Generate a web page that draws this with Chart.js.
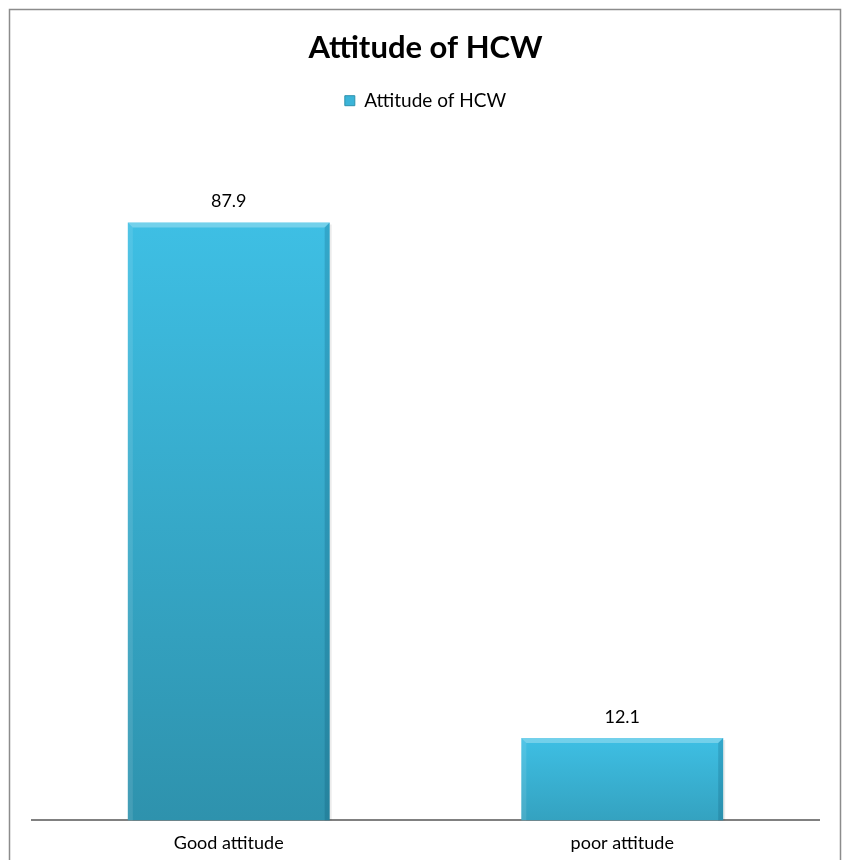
<!DOCTYPE html>
<html>
<head>
<meta charset="utf-8">
<script src="https://cdn.jsdelivr.net/npm/chart.js@4.4.0/dist/chart.umd.min.js"></script>
<style>
  html, body { margin: 0; padding: 0; background: #ffffff; }
  #wrap { width: 843px; height: 860px; position: relative; }
</style>
</head>
<body>
<div id="wrap"><canvas id="c"></canvas></div>
<script>
const categories = ["Good attitude", "poor attitude"];
const seriesName = "Attitude of HCW";
const values = [87.9, 12.1];
const chartTitle = "Attitude of HCW";

const FONT = "Lato, 'Open Sans', sans-serif";
const LIGHT = [62, 191, 228];
const DARK = [46, 146, 173];

function mix(a, b, t) {
  return 'rgb(' + a.map((v, i) => Math.round(v + (b[i] - v) * t)).join(',') + ')';
}

function barFill(ctx) {
  const chart = ctx.chart;
  const y = chart.scales && chart.scales.y;
  if (!y || ctx.dataIndex === undefined || ctx.type !== 'data') return mix(LIGHT, DARK, 0.3);
  const top = y.getPixelForValue(ctx.raw);
  const base = y.getPixelForValue(0);
  const maxH = base - y.getPixelForValue(Math.max(...values));
  const h = base - top;
  if (!isFinite(top) || !isFinite(base) || h <= 0) return mix(LIGHT, DARK, 0.3);
  const t = 0.6 + 0.4 * (h / maxH);
  const g = chart.ctx.createLinearGradient(0, top, 0, base);
  g.addColorStop(0, mix(LIGHT, DARK, 0));
  g.addColorStop(1, mix(LIGHT, DARK, t));
  return g;
}

const frame = {
  id: 'frame',
  beforeDraw(chart) {
    const c = chart.ctx;
    c.save();
    c.strokeStyle = '#8c8c8c';
    c.lineWidth = 1.5;
    c.beginPath();
    c.moveTo(9.5, 870);
    c.lineTo(9.5, 9.5);
    c.lineTo(840.5, 9.5);
    c.lineTo(840.5, 870);
    c.stroke();
    c.restore();
  }
};

const bevel = {
  id: 'bevel',
  afterDatasetsDraw(chart) {
    const c = chart.ctx;
    const meta = chart.getDatasetMeta(0);
    c.save();
    meta.data.forEach((el) => {
      const p = el.getProps(['x', 'y', 'base', 'width'], true);
      const l = p.x - p.width / 2, r = p.x + p.width / 2, t = p.y, b = p.base;
      const e = 5;
      c.fillStyle = 'rgba(255,255,255,0.28)';
      c.beginPath();
      c.moveTo(l, t); c.lineTo(r, t); c.lineTo(r - e, t + e); c.lineTo(l + e, t + e); c.closePath();
      c.fill();
      c.fillStyle = 'rgba(255,255,255,0.10)';
      c.beginPath();
      c.moveTo(l, t); c.lineTo(l + e, t + e); c.lineTo(l + e, b); c.lineTo(l, b); c.closePath();
      c.fill();
      c.fillStyle = 'rgba(0,60,90,0.18)';
      c.beginPath();
      c.moveTo(r, t); c.lineTo(r - e, t + e); c.lineTo(r - e, b); c.lineTo(r, b); c.closePath();
      c.fill();
      c.fillStyle = 'rgba(0,0,0,0.08)';
      c.fillRect(r, t + 2, 2, b - t - 2);
    });
    c.restore();
  }
};

const dataLabels = {
  id: 'dataLabels',
  afterDatasetsDraw(chart) {
    const c = chart.ctx;
    const meta = chart.getDatasetMeta(0);
    c.save();
    c.font = "18px " + FONT;
    c.fillStyle = '#000000';
    c.textAlign = 'center';
    c.textBaseline = 'middle';
    meta.data.forEach((el, i) => {
      c.fillText(values[i].toFixed(1), el.x, el.y - 21);
    });
    c.restore();
  }
};

new Chart(document.getElementById('c'), {
  type: 'bar',
  data: {
    labels: categories,
    datasets: [{
      label: seriesName,
      data: values,
      backgroundColor: barFill,
      borderWidth: 0,
      categoryPercentage: 1.0,
      barPercentage: 0.513
    }]
  },
  options: {
    responsive: true,
    maintainAspectRatio: false,
    animation: false,
    devicePixelRatio: 1,
    layout: { padding: { top: 16, left: 32, right: 24, bottom: -6 } },
    plugins: {
      title: {
        display: true,
        text: chartTitle,
        color: '#000000',
        font: { family: FONT, size: 31, weight: 'bold' },
        padding: { top: 13, bottom: 15 }
      },
      subtitle: {
        display: true,
        text: '',
        position: 'top',
        weight: 500,
        font: { family: FONT, size: 20, lineHeight: 1 },
        padding: 0
      },
      legend: {
        display: true,
        labels: {
          color: '#000000',
          font: { family: FONT, size: 19 },
          boxWidth: 10,
          boxHeight: 10,
          padding: 10,
          generateLabels(chart) {
            return [{
              text: seriesName,
              fillStyle: '#3bb4d8',
              strokeStyle: '#2e92ad',
              lineWidth: 1,
              datasetIndex: 0
            }];
          }
        },
        onClick: null
      },
      tooltip: { enabled: false }
    },
    scales: {
      x: {
        grid: { display: false, drawTicks: false },
        border: { display: true, color: '#808080', width: 2 },
        ticks: { color: '#000000', font: { family: FONT, size: 18 }, padding: 12 }
      },
      y: {
        display: false,
        min: 0,
        max: 100
      }
    }
  },
  plugins: [frame, bevel, dataLabels]
});
</script>
</body>
</html>
